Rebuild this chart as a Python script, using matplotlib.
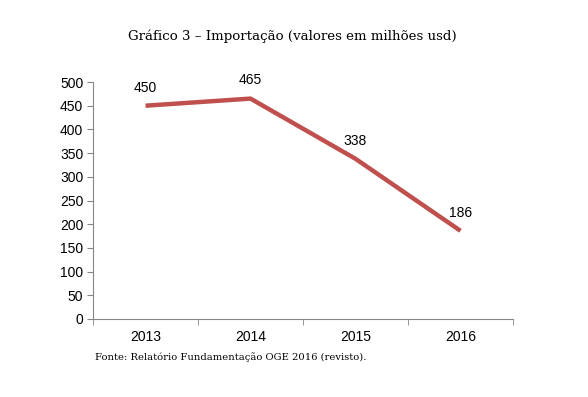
import matplotlib.pyplot as plt

years = ['2013', '2014', '2015', '2016']
values = [450, 465, 338, 186]
yticks = list(range(0, 501, 50))

plt.rcParams['font.family'] = ['Liberation Sans', 'DejaVu Sans']

fig = plt.figure(figsize=(5.88, 3.97), dpi=100)
ax = fig.add_axes([93 / 588, 78 / 397, 420 / 588, 237 / 397])

x = list(range(len(years)))
ax.plot(x, values, color='#C0504D', lw=3.2, solid_capstyle='butt')
for xi, v in zip(x, values):
    ax.annotate(str(v), (xi, v), xytext=(0, 8), textcoords='offset points',
                ha='center', va='bottom', fontsize=10)

ax.set_xlim(-0.5, len(years) - 0.5)
ax.set_ylim(0, 500)
ax.set_yticks(yticks)
ax.set_xticks(x)
ax.set_xticklabels(years, fontsize=10)
ax.set_xticks([i - 0.5 for i in range(len(years) + 1)], minor=True)
ax.tick_params(axis='x', which='major', length=0, pad=8)
ax.tick_params(axis='x', which='minor', length=4, color='#868686', direction='out')
ax.tick_params(axis='y', length=4, color='#868686', labelsize=10, pad=3)
for s in ['top', 'right']:
    ax.spines[s].set_visible(False)
for s in ['left', 'bottom']:
    ax.spines[s].set_color('#868686')
    ax.spines[s].set_linewidth(0.8)

fig.text(292 / 588, 1 - 36 / 397, 'Gráfico 3 – Importação (valores em milhões usd)',
         family='DejaVu Serif', fontsize=9.6, ha='center', va='center')
fig.text(95 / 588, 1 - 357 / 397, 'Fonte: Relatório Fundamentação OGE 2016 (revisto).',
         family='DejaVu Serif', fontsize=7.2, ha='left', va='center')

fig.savefig('out.png', dpi=100)
